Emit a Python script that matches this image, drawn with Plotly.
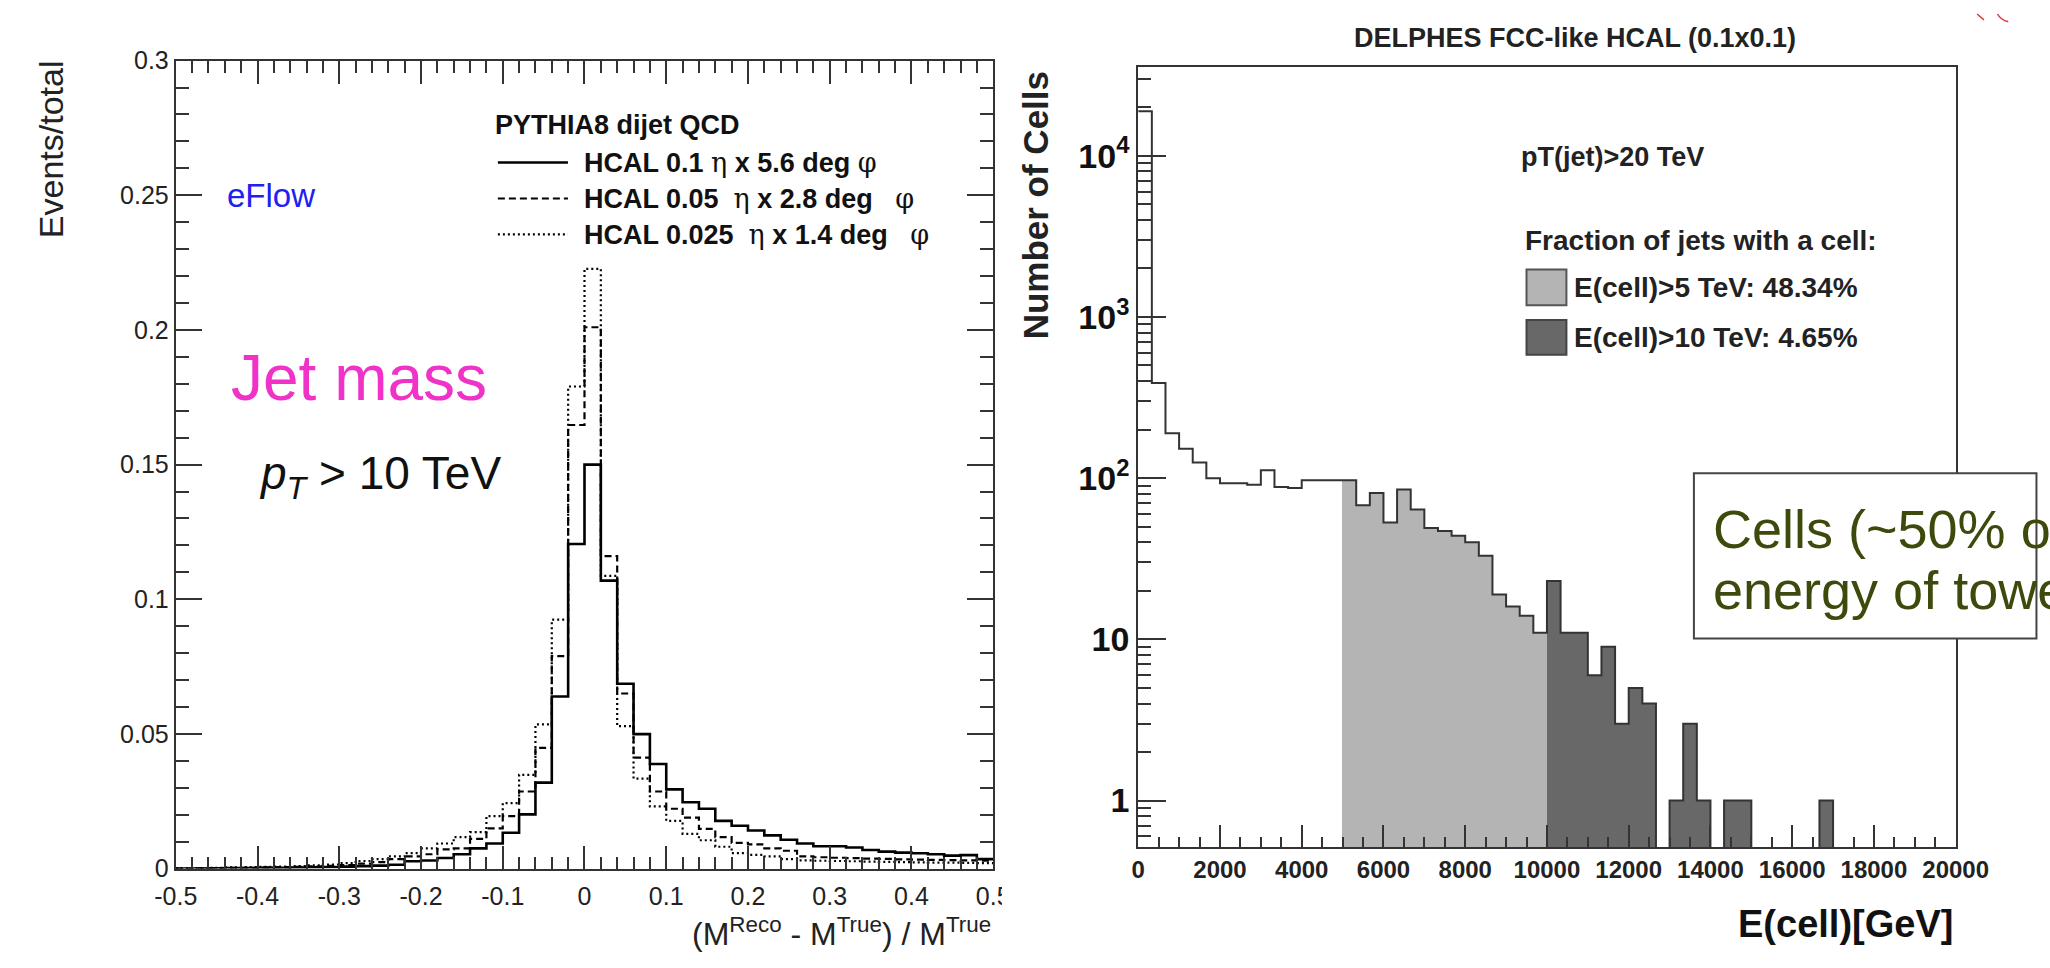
import numpy as np
import plotly.graph_objects as go

W, H = 2050, 968
SANS = "Liberation Sans, Arial, Helvetica, sans-serif"

# ---------------- Left panel data: jet mass resolution ----------------
mass_lo, mass_hi, mass_bin = -0.5, 0.5, 0.02
solid_01 = [0, 0, 0.0001, 0.0002, 0.0002, 0.0003, 0.0003, 0.0004, 0.0005, 0.0006,
            0.0007, 0.0009, 0.0011, 0.0014, 0.0027, 0.0030, 0.0039, 0.0053, 0.0075, 0.0093,
            0.0133, 0.0201, 0.0319, 0.0639, 0.1205,
            0.1500, 0.1069, 0.0686, 0.0499, 0.0388, 0.0294, 0.0246, 0.0222, 0.0177, 0.0159,
            0.0141, 0.0123, 0.0107, 0.0093, 0.0083, 0.0083, 0.0078, 0.0069, 0.0063, 0.0059,
            0.0057, 0.0053, 0.0048, 0.0050, 0.0035]
dashed_005 = [0, 0.0001, 0.0002, 0.0003, 0.0003, 0.0004, 0.0005, 0.0006, 0.0008, 0.0010,
              0.0013, 0.0018, 0.0024, 0.0035, 0.0045, 0.0053, 0.0071, 0.0075, 0.0110, 0.0149,
              0.0195, 0.0286, 0.0448, 0.0789, 0.1647,
              0.2010, 0.1160, 0.0650, 0.0412, 0.0286, 0.0222, 0.0189, 0.0147, 0.0117, 0.0095,
              0.0090, 0.0075, 0.0066, 0.0045, 0.0042, 0.0040, 0.0039, 0.0037, 0.0036, 0.0034,
              0.0033, 0.0032, 0.0031, 0.0030, 0.0029]
dotted_0025 = [0.0001, 0.0002, 0.0003, 0.0004, 0.0005, 0.0006, 0.0007, 0.0009, 0.0012, 0.0015,
               0.0020, 0.0028, 0.0035, 0.0045, 0.0057, 0.0075, 0.0093, 0.0117, 0.0135, 0.0195,
               0.0243, 0.0348, 0.0535, 0.0924, 0.1790,
               0.2227, 0.1087, 0.0529, 0.0334, 0.0231, 0.0177, 0.0129, 0.0105, 0.0081, 0.0057,
               0.0051, 0.0045, 0.0035, 0.0030, 0.0029, 0.0028, 0.0027, 0.0026, 0.0025, 0.0024,
               0.0023, 0.0022, 0.0022, 0.0021, 0.0020]
left_xticks = [-0.5, -0.4, -0.3, -0.2, -0.1, 0, 0.1, 0.2, 0.3, 0.4, 0.5]
left_xtick_text = ["-0.5", "-0.4", "-0.3", "-0.2", "-0.1", "0", "0.1", "0.2", "0.3", "0.4", "0.5"]
left_yticks = [0, 0.05, 0.1, 0.15, 0.2, 0.25, 0.3]
left_ytick_text = ["0", "0.05", "0.1", "0.15", "0.2", "0.25", "0.3"]
legend_labels = ["HCAL 0.1 {eta} x 5.6 deg {phi}",
                 "HCAL 0.05\u00a0 {eta} x 2.8 deg \u00a0 {phi}",
                 "HCAL 0.025\u00a0 {eta} x 1.4 deg \u00a0 {phi}"]

# ---------------- Right panel data: cell energy ----------------
e_lo, e_hi, n_ebins = 0, 20000, 60
cell_counts = [18900, 390, 190, 152, 125, 100, 93, 93, 91, 112,
               88, 87, 97, 97, 97, 97, 68, 81, 53, 85,
               64, 49, 47, 44, 40, 33, 19, 16, 14, 11,
               23, 11, 11, 6, 9, 3, 5, 4, 0, 1,
               3, 1, 0, 1, 1, 0, 0, 0, 0, 0,
               1, 0, 0, 0, 0, 0, 0, 0, 0, 0]
light_from, dark_from = 5000, 10000
right_yticks = [1, 10, 100, 1000, 10000]
right_ytick_text = ["1", "10", "10<sup>2</sup>", "10<sup>3</sup>", "10<sup>4</sup>"]
right_xticks = list(range(0, 20001, 2000))


def fx(x):
    return x / W


def fy(y):
    return 1 - y / H


fig = go.Figure()

# ---- left histograms ----
edges = np.round(np.arange(mass_lo, mass_hi + mass_bin / 2, mass_bin), 4)
styles = [(solid_01, "solid", 2.6), (dashed_005, "7px,4px", 2.2), (dotted_0025, "2px,3px", 2.2)]
for vals, dash, lw in styles:
    xs = list(edges[:-1]) + [edges[-1]]
    ys = list(vals) + [vals[-1]]
    fig.add_trace(go.Scatter(x=xs, y=ys, mode="lines", line=dict(shape="hv", color="black", width=lw, dash=dash),
                             xaxis="x", yaxis="y", showlegend=False, hoverinfo="skip"))

# ---- right histogram ----
e_edges = np.linspace(e_lo, e_hi, n_ebins + 1)
e_cent = (e_edges[:-1] + e_edges[1:]) / 2
bw = e_edges[1] - e_edges[0]
light = [c if (e_edges[i] >= light_from and e_edges[i] < dark_from and c > 0) else None for i, c in enumerate(cell_counts)]
dark = [c if (e_edges[i] >= dark_from and c > 0) else None for i, c in enumerate(cell_counts)]
fig.add_trace(go.Bar(x=e_cent, y=light, width=bw, marker=dict(color="#b4b4b4", line=dict(width=0)),
                     xaxis="x2", yaxis="y2", showlegend=False, hoverinfo="skip"))
fig.add_trace(go.Bar(x=e_cent, y=dark, width=bw, marker=dict(color="#686868", line=dict(width=0)),
                     xaxis="x2", yaxis="y2", showlegend=False, hoverinfo="skip"))
outline_y = [c if c > 0 else 1e-3 for c in cell_counts]
fig.add_trace(go.Scatter(x=list(e_edges[:-1]) + [e_edges[-1]], y=outline_y + [outline_y[-1]], mode="lines",
                         line=dict(shape="hv", color="#333333", width=2),
                         xaxis="x2", yaxis="y2", showlegend=False, hoverinfo="skip"))

axis_common = dict(showgrid=False, zeroline=False, showline=True, linecolor="#333", linewidth=2,
                   ticks="inside", tickcolor="#333", tickwidth=2)

fig.update_layout(
    width=W, height=H, margin=dict(l=0, r=0, t=0, b=0),
    paper_bgcolor="white", plot_bgcolor="white", showlegend=False, bargap=0, barmode="overlay",
    hovermode=False,
    xaxis=dict(domain=[fx(158), fx(998)], range=[mass_lo, mass_hi], anchor="y", mirror="ticks",
               tickvals=left_xticks, ticktext=left_xtick_text, ticklen=23, ticklabelstandoff=4,
               minor=dict(dtick=0.02, ticks="inside", ticklen=12, tickcolor="#333", tickwidth=2),
               tickfont=dict(family=SANS, size=25, color="#222"), **axis_common),
    yaxis=dict(domain=[fy(880), fy(48)], range=[0, 0.3], anchor="x", mirror="ticks",
               tickvals=left_yticks, ticktext=left_ytick_text, ticklen=26,
               minor=dict(dtick=0.01, ticks="inside", ticklen=13, tickcolor="#333", tickwidth=2),
               tickfont=dict(family=SANS, size=25, color="#222"), **axis_common),
    xaxis2=dict(domain=[fx(1147), fx(1987)], range=[e_lo, e_hi], anchor="y2", mirror=True,
                tickvals=right_xticks, ticktext=[str(v) for v in right_xticks], ticklen=22,
                minor=dict(dtick=500, ticks="inside", ticklen=10, tickcolor="#333", tickwidth=2),
                tickfont=dict(family=SANS, size=24, color="#222", weight="bold"), **axis_common),
    yaxis2=dict(domain=[fy(858), fy(55)], type="log", range=[-0.289, 4.548], anchor="x2", mirror=True,
                tickvals=right_yticks, ticktext=right_ytick_text, ticklen=28,
                minor=dict(tickvals=[m * 10 ** d for d in range(-1, 5) for m in range(2, 10)],
                           ticks="inside", ticklen=13, tickcolor="#333", tickwidth=2),
                tickfont=dict(family=SANS, size=34, color="#111", weight="bold"), **axis_common),
)

anns = []


def ann(text, x, y, size, color="#222", xanchor="left", yanchor="middle", weight="normal", angle=0,
        family=SANS):
    anns.append(dict(text=text, x=fx(x), y=fy(y), xref="paper", yref="paper", showarrow=False,
                     xanchor=xanchor, yanchor=yanchor, textangle=angle,
                     font=dict(family=family, size=size, color=color, weight=weight)))


# left panel texts
ann("Events/total", 30, 139, 34, angle=-90, xanchor="center")
ann("eFlow", 209, 187, 33, color="#2020f0")
ann("Jet mass", 213, 375, 64, color="#f032c8")
ann("<i>p</i><sub><i>T</i></sub> > 10 TeV", 241, 476, 46, color="#111")
ann("PYTHIA8 dijet QCD", 484, 114, 27, weight="bold", color="#111")
greek = lambda s: '<span style="font-family:DejaVu Serif;font-weight:normal">' + s + "</span>"
for i, lab in enumerate(legend_labels):
    ann(lab.format(eta=greek("\u03b7"), phi=greek("\u03c6")), 575, 153 + 37 * i, 27, weight="bold", color="#111")
ann("(M<sup>Reco</sup> - M<sup>True</sup>) / M<sup>True</sup>", 998, 945, 32, xanchor="right")

# right panel texts
ann("DELPHES FCC-like HCAL (0.1x0.1)", 1596, 25, 27, xanchor="center", weight="bold")
ann("Number of Cells", 1041, 197, 35, angle=-90, xanchor="center", weight="bold")
ann("pT(jet)>20 TeV", 1538, 147, 27, weight="bold")
ann("Fraction of jets with a cell:", 1542, 233, 28, weight="bold")
ann("E(cell)>5 TeV: 48.34%", 1593, 282, 28, weight="bold")
ann("E(cell)>10 TeV: 4.65%", 1593, 333, 28, weight="bold")
ann("E(cell)[GeV]", 1986, 937, 38, xanchor="right", weight="bold", color="#111")
ann("Cells (~50% of", 1736, 530, 54, color="#3c4a0c")
ann("energy of tower", 1736, 593, 54, color="#3c4a0c")

shapes = []
# legend line samples (left panel)
for i, dash in enumerate(["solid", "7px,4px", "2px,3px"]):
    shapes.append(dict(type="line", xref="paper", yref="paper", x0=fx(489), x1=fx(561),
                       y0=fy(153 + 37 * i), y1=fy(153 + 37 * i),
                       line=dict(color="black", width=2.6 if i == 0 else 2.2, dash=dash)))
# fill legend boxes (right panel)
shapes.append(dict(type="rect", xref="paper", yref="paper", x0=fx(1546), x1=fx(1587), y0=fy(300), y1=fy(263),
                   fillcolor="#b4b4b4", line=dict(color="#555", width=2)))
shapes.append(dict(type="rect", xref="paper", yref="paper", x0=fx(1546), x1=fx(1587), y0=fy(351), y1=fy(315),
                   fillcolor="#686868", line=dict(color="#444", width=2)))
# overlay text box
shapes.append(dict(type="rect", xref="paper", yref="paper", x0=fx(1718), x1=fx(2070), y0=fy(643), y1=fy(473),
                   fillcolor="white", line=dict(color="#444", width=2), layer="above"))
# white cut hiding the cropped edge of the left panel
shapes.append(dict(type="rect", xref="paper", yref="paper", x0=fx(1007), x1=fx(1045), y0=fy(918), y1=fy(882),
                   fillcolor="white", line=dict(width=0), layer="above"))
# small red mark at top right
shapes.append(dict(type="path", xref="paper", yref="paper",
                   path=f"M {fx(2009)} {fy(0)} L {fx(2016)} {fy(6)} M {fx(2030)} {fy(0)} Q {fx(2033)} {fy(6)} {fx(2041)} {fy(8)}",
                   line=dict(color="#e03a3a", width=1.5)))

fig.update_layout(annotations=anns, shapes=shapes)
fig.write_html("out.html")
